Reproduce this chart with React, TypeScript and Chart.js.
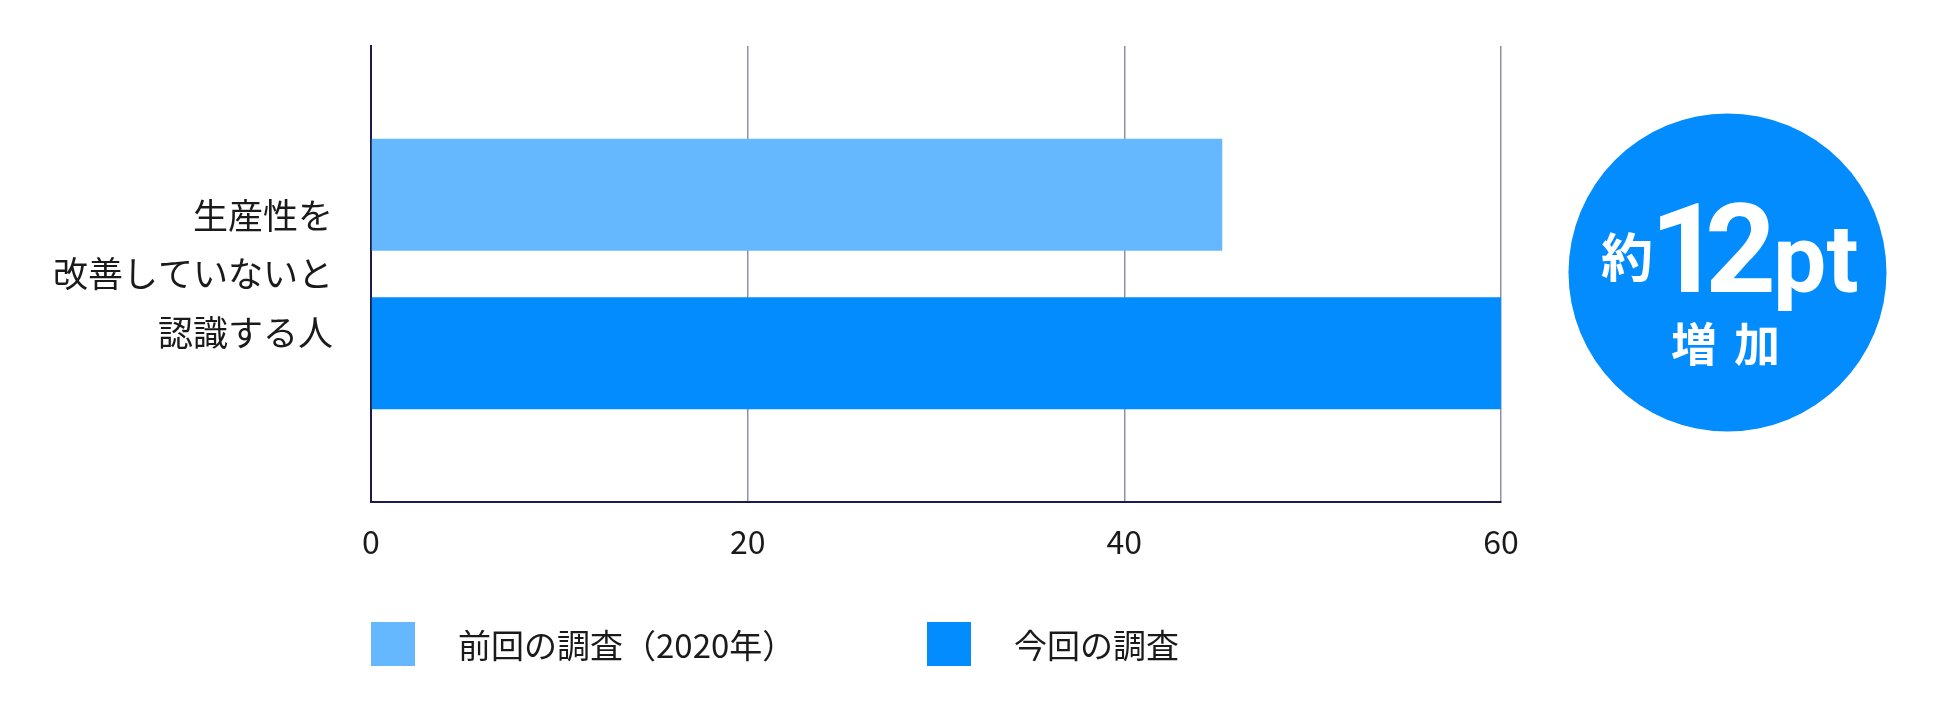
import { useEffect, useRef } from 'react';
import { Chart, registerables } from 'chart.js';

Chart.register(...registerables);

// ---- data ----
const categories: string[][] = [['生産性を', '改善していないと', '認識する人']];
const seriesNames: string[] = ['前回の調査（2020年）', '今回の調査'];
const previousValues: number[] = [45.2];
const currentValues: number[] = [60];
const xTickValues: number[] = [0, 20, 40, 60];
const badgeLines: string[] = ['約', '12', 'pt', '増加'];

const FONT = '"Noto Sans CJK JP", "Noto Sans", sans-serif';
const TEXT = '#1a1a1a';
const LIGHT = '#66b8fe';
const DARK = '#038cfe';
const AXIS = '#1b1b4d';
const GRID = '#8f8fab';

const overlayPlugin = {
  id: 'overlay',
  afterDraw(chart: any) {
    const ctx: CanvasRenderingContext2D = chart.ctx;
    const area = chart.chartArea;
    ctx.save();
    // legend
    const offsets = [0, 556];
    chart.data.datasets.forEach((d: any, i: number) => {
      const x = area.left + offsets[i];
      ctx.fillStyle = d.backgroundColor;
      ctx.fillRect(x, 622, 44, 44);
      ctx.fillStyle = TEXT;
      ctx.font = `33px ${FONT}`;
      ctx.textBaseline = 'middle';
      ctx.textAlign = 'left';
      ctx.fillText(d.label, x + 87, 645);
    });

    // badge
    const cx = 1727.5;
    const cy = 272.5;
    ctx.beginPath();
    ctx.arc(cx, cy, 159, 0, Math.PI * 2);
    ctx.fillStyle = DARK;
    ctx.fill();
    ctx.fillStyle = '#ffffff';

    ctx.textAlign = 'center';
    ctx.textBaseline = 'middle';
    ctx.font = `bold 52px ${FONT}`;
    ctx.fillText(badgeLines[0], 1627, 257);

    ctx.textAlign = 'left';
    ctx.textBaseline = 'alphabetic';
    ctx.font = `bold 124px Roboto, sans-serif`;
    const big = badgeLines[1];
    const c1 = big.charAt(0);
    const c2 = big.charAt(1);
    const m1 = ctx.measureText(c1);
    ctx.fillText(c1, 1660 + m1.actualBoundingBoxLeft, 292);
    const m2 = ctx.measureText(c2);
    ctx.fillText(c2, 1772 - m2.actualBoundingBoxRight, 292);

    ctx.font = `bold 95px Roboto, sans-serif`;
    const m3 = ctx.measureText(badgeLines[2]);
    ctx.fillText(badgeLines[2], 1778 + m3.actualBoundingBoxLeft, 292);

    ctx.textAlign = 'center';
    ctx.textBaseline = 'middle';
    ctx.font = `bold 46px ${FONT}`;
    (ctx as any).letterSpacing = '17px';
    ctx.fillText(badgeLines[3], 1726 + 8, 344);
    (ctx as any).letterSpacing = '0px';
    ctx.restore();
  },
};

export default function App() {
  const ref = useRef<HTMLCanvasElement | null>(null);

  useEffect(() => {
    document.body.style.margin = '0';
    const canvas = ref.current;
    if (!canvas) return;
    const chart = new Chart(canvas, {
      type: 'bar',
      data: {
        labels: categories as any,
        datasets: [
          { label: seriesNames[0], data: previousValues, backgroundColor: LIGHT },
          { label: seriesNames[1], data: currentValues, backgroundColor: DARK },
        ],
      },
      options: {
        indexAxis: 'y',
        responsive: false,
        animation: false,
        devicePixelRatio: 1,
        layout: { padding: { top: 46, right: 449, left: 0, bottom: 0 } },
        datasets: { bar: { categoryPercentage: 0.695, barPercentage: 0.707 } } as any,
        plugins: {
          legend: { display: false },
          tooltip: { enabled: false },
        },
        scales: {
          x: {
            min: xTickValues[0],
            max: xTickValues[xTickValues.length - 1],
            z: 1,
            afterBuildTicks(scale: any) {
              scale.ticks = xTickValues.map((v) => ({ value: v }));
            },
            afterFit(scale: any) {
              scale.height = 215;
              scale.paddingLeft = 0;
              scale.paddingRight = 0;
            },
            ticks: {
              padding: 21,
              color: TEXT,
              font: { family: FONT, size: 32 },
            },
            grid: { color: GRID, lineWidth: 1.5, drawTicks: false },
            border: { color: AXIS, width: 2 },
          },
          y: {
            z: 1,
            afterFit(scale: any) {
              scale.width = 371;
              scale.paddingTop = 0;
              scale.paddingBottom = 0;
            },
            ticks: {
              padding: 38,
              color: TEXT,
              font: { family: FONT, size: 35, lineHeight: 1.67 },
            },
            grid: { display: false, drawTicks: false },
            border: { color: AXIS, width: 2 },
          },
        },
      },
      plugins: [overlayPlugin],
    });
    return () => chart.destroy();
  }, []);

  return (
    <div style={{ width: 1950, height: 717 }}>
      <canvas ref={ref} width={1950} height={717} style={{ display: 'block', width: 1950, height: 717 }} />
    </div>
  );
}
